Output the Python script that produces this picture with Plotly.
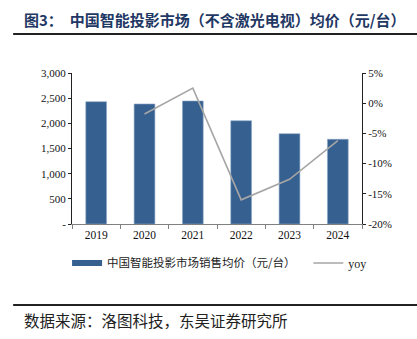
import plotly.graph_objects as go

years = ["2019", "2020", "2021", "2022", "2023", "2024"]
price = [2430, 2385, 2444, 2052, 1794, 1683]
yoy = [None, -1.8, 2.5, -16.0, -12.6, -6.2]
left_ticks = [0, 500, 1000, 1500, 2000, 2500, 3000]
left_labels = ["-", "500", "1,000", "1,500", "2,000", "2,500", "3,000"]
right_ticks = [-20, -15, -10, -5, 0, 5]
right_labels = ["-20%", "-15%", "-10%", "-5%", "0%", "5%"]

serif = "Liberation Serif, Times New Roman, serif"
cjk = "Noto Sans CJK SC, sans-serif"
bar_color = "#36608F"

fig = go.Figure()
fig.add_trace(go.Bar(x=years, y=price, showlegend=False,
                     marker=dict(color=bar_color, line=dict(color="#8FA8C8", width=0.6)),
                     width=0.43))
fig.add_trace(go.Scatter(x=years, y=yoy, yaxis="y2", mode="lines", showlegend=False,
                         line=dict(color="#A6A6A6", width=1.6)))
# legend entries
fig.add_trace(go.Scatter(x=[None], y=[None], mode="lines", name="中国智能投影市场销售均价（元/台）",
                         line=dict(color=bar_color, width=6), legend="legend"))
fig.add_trace(go.Scatter(x=[None], y=[None], mode="lines", name="yoy", yaxis="y2",
                         line=dict(color="#A6A6A6", width=1.6), legend="legend2"))

fig.update_layout(
    width=417, height=339,
    margin=dict(l=72, r=55, t=73, b=115),
    paper_bgcolor="white", plot_bgcolor="white",
    font=dict(family=serif, size=11, color="#222222"),
    legend=dict(orientation="h", x=-0.017, y=-0.258, xanchor="left", yanchor="middle",
                font=dict(size=11.5, family=cjk, color="#222222"), bgcolor="rgba(0,0,0,0)"),
    legend2=dict(orientation="h", x=0.815, y=-0.258, xanchor="left", yanchor="middle",
                 font=dict(size=12, family=serif, color="#222222"), bgcolor="rgba(0,0,0,0)"),
    bargap=0.5,
    xaxis=dict(type="category", showline=True, linecolor="#808080", linewidth=1,
               ticks="outside", tickson="boundaries", ticklen=4, tickcolor="#808080",
               tickfont=dict(size=11.5, color="#111111", family=serif), showgrid=False),
    yaxis=dict(range=[0, 3000], tickvals=left_ticks, ticktext=left_labels,
               showline=True, linecolor="#222222", linewidth=1, ticks="outside", ticklen=3,
               tickcolor="#222222", showgrid=False, zeroline=False,
               tickfont=dict(size=11, color="#111111", family=serif)),
    yaxis2=dict(range=[-20, 5], tickvals=right_ticks, ticktext=right_labels,
                overlaying="y", side="right", showline=True, linecolor="#222222", linewidth=1,
                ticks="outside", ticklen=3, tickcolor="#222222", showgrid=False, zeroline=False,
                tickfont=dict(size=11, color="#111111", family=serif)),
)

fig.add_annotation(xref="paper", yref="paper", x=-0.172, y=1.351, xanchor="left", yanchor="middle",
                   text="<b>图3：  中国智能投影市场（不含激光电视）均价（元/台）</b>",
                   showarrow=False, font=dict(family=cjk, size=15, color="#1F3864"))
fig.add_shape(type="line", xref="paper", yref="paper", x0=-0.203, x1=1.19, y0=1.258, y1=1.258,
              line=dict(color="#222222", width=2))
fig.add_shape(type="line", xref="paper", yref="paper", x0=-0.203, x1=1.19, y0=-0.536, y1=-0.536,
              line=dict(color="#222222", width=2))
fig.add_annotation(xref="paper", yref="paper", x=-0.172, y=-0.636, xanchor="left", yanchor="middle",
                   text="数据来源：洛图科技，东吴证券研究所",
                   showarrow=False, font=dict(family=cjk, size=15.5, color="#222222"))

fig.write_html("out.html")
